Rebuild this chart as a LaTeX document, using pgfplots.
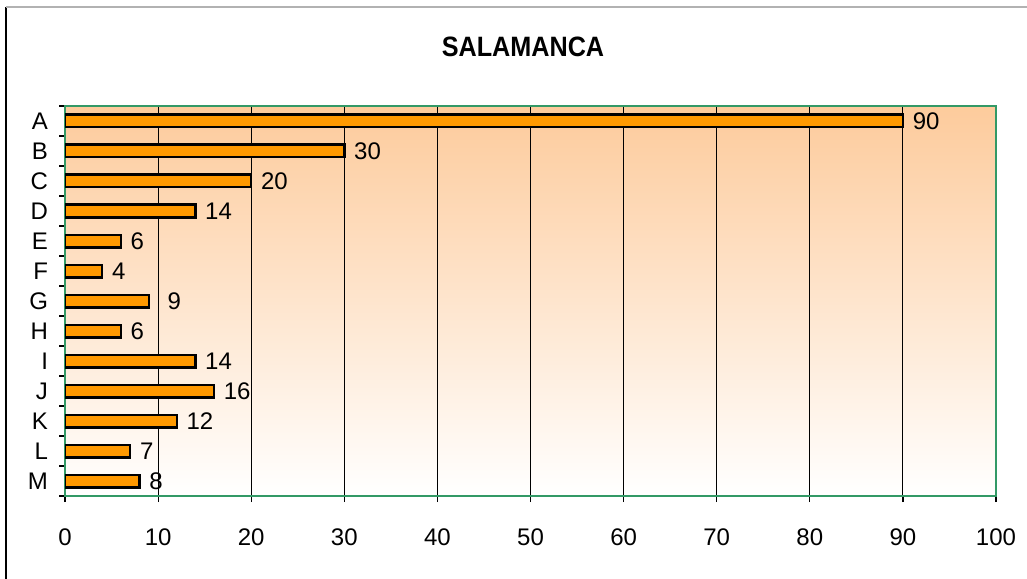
\documentclass[border=0pt]{standalone}
\usepackage{pgfplots}
\pgfplotsset{compat=1.18}
\usepackage{fontspec}
\usepackage{graphicx}
\setmainfont{Liberation Sans}

\definecolor{barorange}{HTML}{FF9900}
\definecolor{plotgreen}{HTML}{339966}
\definecolor{bgtop}{HTML}{FDCB9C}

\begin{document}
\begin{tikzpicture}
% page: 1027x578 px at 0.5pt per px
\path[use as bounding box] (0,0) rectangle (513.5pt,289pt);
\draw[black, line width=0.8pt] (3pt,-5pt) -- (3pt,285.5pt);
\draw[black!30, line width=0.9pt] (3pt,285.5pt) -- (520pt,285.5pt);
\node[font=\fontsize{14}{16}\selectfont\bfseries] at (261.5pt,265.5pt) {\scalebox{0.9}[1]{SALAMANCA}};

\begin{axis}[
    at={(32.5pt,41pt)}, anchor=south west,
    scale only axis,
    width=465.5pt, height=195pt,
    xmin=0, xmax=100,
    ymin=0.5, ymax=13.5,
    y dir=reverse,
    xtick={0,10,...,100},
    ytick={1,...,13},
    yticklabels={A,B,C,D,E,F,G,H,I,J,K,L,M},
    minor ytick={0.5,1.5,...,13.5},
    tick align=outside,
    xtick pos=bottom, ytick pos=left,
    major tick length=3pt, minor tick length=3pt,
    major y tick style={draw=none},
    minor y tick style={black, line width=0.6pt},
    major x tick style={black, line width=0.6pt},
    xmajorgrids,
    major grid style={black, line width=0.5pt},
    axis line style={plotgreen, line width=1pt},
    axis background/.style={top color=bgtop, bottom color=white},
    /pgf/number format/assume math mode=true,
    tick label style={font=\fontsize{12}{14}\selectfont},
    xticklabel style={yshift=-10pt},
    yticklabel style={xshift=-2pt},
    xbar, bar width=6.3pt,
    point meta=explicit symbolic,
    nodes near coords,
    nodes near coords style={anchor=west, xshift=1pt, font=\fontsize{12}{14}\selectfont},
]
\addplot[fill=barorange, draw=black, line width=1.2pt] coordinates {
    (90,1) [90]
    (30,2) [30]
    (20,3) [20]
    (14,4) [14]
    (6,5) [6]
    (4,6) [4]
    (9,7) [\hspace{4.5pt}9]
    (6,8) [6]
    (14,9) [14]
    (16,10) [16]
    (12,11) [12]
    (7,12) [7]
    (8,13) [8]
};
\end{axis}
\end{tikzpicture}
\end{document}
